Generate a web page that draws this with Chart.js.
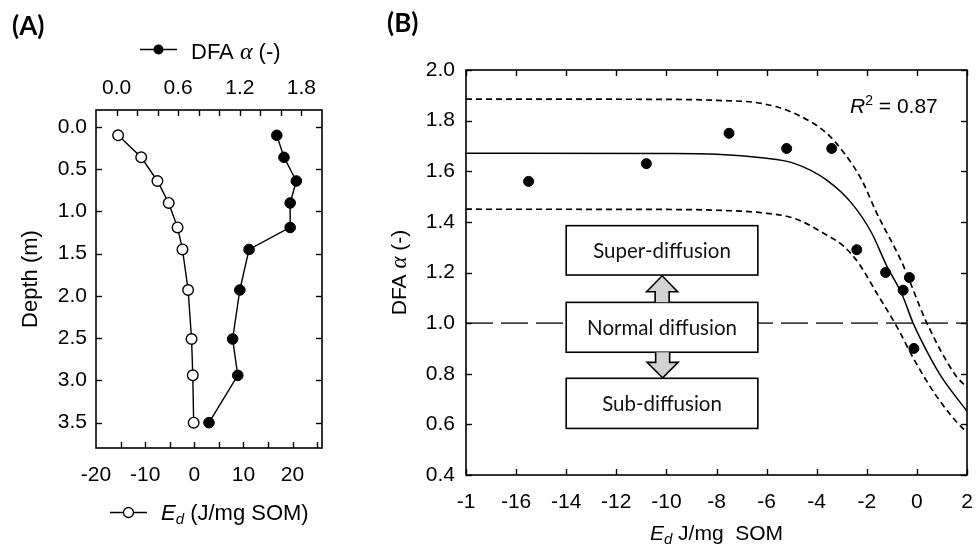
<!DOCTYPE html>
<html><head><meta charset="utf-8">
<script src="https://cdn.jsdelivr.net/npm/chart.js@4.4.1/dist/chart.umd.min.js"></script>
<style>
html,body{margin:0;padding:0;background:#fff;width:977px;height:551px;overflow:hidden}
#a{position:absolute;left:0;top:0}
#b{position:absolute;left:370px;top:0}
</style></head><body>
<canvas id="a" width="370" height="551"></canvas>
<canvas id="b" width="607" height="551"></canvas>
<script>
// ---------- data ----------
const depth = [0.10, 0.36, 0.64, 0.90, 1.19, 1.45, 1.93, 2.51, 2.94, 3.50];
const ed    = [-15.5, -10.8, -7.5, -5.2, -3.4, -2.4, -1.25, -0.55, -0.3, -0.12];
const dfa   = [1.56, 1.63, 1.75, 1.69, 1.69, 1.29, 1.20, 1.13, 1.18, 0.90];

// fitted curve and confidence bands
const fitX = [-18, -10, -8, -6.2, -4.9, -3.6, -2.6, -1.8, -1.2, -0.6, -0.15, 0.5, 1.0, 2.0];
const fitY = [1.671, 1.670, 1.667, 1.653, 1.631, 1.565, 1.473, 1.355, 1.225, 1.115, 1.0, 0.87, 0.785, 0.652];
const upX  = [-18, -10, -8, -6.2, -4.9, -3.6, -2.9, -2.2, -1.6, -0.6, 0.4, 1.5, 2.0];
const upY  = [1.885, 1.884, 1.88, 1.868, 1.829, 1.75, 1.671, 1.565, 1.434, 1.24, 1.0, 0.80, 0.745];
const loX  = [-18, -10, -8, -6.2, -4.9, -3.6, -2.9, -2.3, -1.6, -0.8, -0.1, 0.8, 1.9, 2.0];
const loY  = [1.45, 1.449, 1.446, 1.436, 1.414, 1.348, 1.302, 1.233, 1.118, 0.986, 0.854, 0.709, 0.578, 0.572];
const normalLevel = 1.0;

// tick values / labels
const depthTicks = [0, 0.5, 1.0, 1.5, 2.0, 2.5, 3.0, 3.5];
const dfaTopTicks = [0, 0.6, 1.2, 1.8];
const dfaTopMarks = [0, 0.2, 0.4, 0.6, 0.8, 1.0, 1.2, 1.4, 1.6, 1.8];
const edBotTicks = [-20, -10, 0, 10, 20];
const edBotMarks = [-15, -10, -5, 0, 5, 10, 15, 20, 25];
const bYTicks = [0.4, 0.6, 0.8, 1.0, 1.2, 1.4, 1.6, 1.8, 2.0];
const bXTicks = [-18, -16, -14, -12, -10, -8, -6, -4, -2, 0, 2];
const bXLabels = ['-1', '-16', '-14', '-12', '-10', '-8', '-6', '-4', '-2', '0', '2'];
const boxLabels = ['Super-diffusion', 'Normal diffusion', 'Sub-diffusion'];
const r2Text = '0.87';

// ---------- styling helpers ----------
const SANS = '"Liberation Sans", Arial, sans-serif';
const SERIF = '"Liberation Serif", "Times New Roman", serif';
const BOXF = 'Lato, "Open Sans", sans-serif';
const INK = '#000';
const tickFont = {family: SANS, size: 21};
const f = (size, style, fam) => `${style || 'normal'} ${size}px ${fam || SANS}`;

function drawRich(ctx, parts, x, y, align, baseline) {
  let w = 0;
  for (const p of parts) { ctx.font = p.f; w += ctx.measureText(p.t).width; }
  let cx = align === 'center' ? x - w / 2 : x;
  ctx.textAlign = 'left';
  ctx.textBaseline = baseline || 'alphabetic';
  ctx.fillStyle = INK;
  for (const p of parts) {
    ctx.font = p.f;
    ctx.fillText(p.t, cx, y + (p.dy || 0));
    cx += ctx.measureText(p.t).width;
  }
}

const frameTicks = {
  id: 'frameTicks',
  afterDraw(chart, args, opts) {
    const {ctx, chartArea: a} = chart;
    ctx.save();
    ctx.strokeStyle = '#000';
    ctx.lineWidth = 1.6;
    ctx.strokeRect(a.left, a.top, a.right - a.left, a.bottom - a.top);
    ctx.lineWidth = 1.4;
    const L = 6;
    for (const m of opts.marks) {
      const s = chart.scales[m.scale];
      for (const v of m.values) {
        const p = Math.round(s.getPixelForValue(v)) + 0.5;
        for (const side of m.sides) {
          ctx.beginPath();
          if (side === 'left') { ctx.moveTo(a.left, p); ctx.lineTo(a.left + L, p); }
          if (side === 'right') { ctx.moveTo(a.right, p); ctx.lineTo(a.right - L, p); }
          if (side === 'top') { ctx.moveTo(p, a.top); ctx.lineTo(p, a.top + L); }
          if (side === 'bottom') { ctx.moveTo(p, a.bottom); ctx.lineTo(p, a.bottom - L); }
          ctx.stroke();
        }
      }
    }
    ctx.restore();
  }
};

const fixTicks = arr => s => { s.ticks = arr.map(v => ({value: v})); };
const noGrid = {display: false, drawTicks: false};

// ---------- panel A ----------
const textA = {
  id: 'textA',
  afterDraw(chart) {
    const ctx = chart.ctx;
    ctx.save();
    ctx.fillStyle = INK; ctx.font = f(26, 'bold', BOXF);
    ctx.textAlign = 'left'; ctx.textBaseline = 'middle';
    ctx.fillText('(A)', 12, 27);
    // top legend
    ctx.strokeStyle = '#000'; ctx.lineWidth = 1.3;
    ctx.beginPath(); ctx.moveTo(140, 49.5); ctx.lineTo(177, 49.5); ctx.stroke();
    ctx.fillStyle = '#000'; ctx.beginPath(); ctx.arc(158.5, 49.5, 5, 0, Math.PI * 2); ctx.fill();
    drawRich(ctx, [{t: 'DFA ', f: f(22)}, {t: 'α', f: f(24, 'italic', SERIF)}, {t: ' (-)', f: f(22)}], 191, 58.5, 'left');
    // bottom legend
    ctx.beginPath(); ctx.moveTo(110, 512.5); ctx.lineTo(147, 512.5); ctx.stroke();
    ctx.fillStyle = '#fff'; ctx.beginPath(); ctx.arc(128.5, 512.5, 5, 0, Math.PI * 2); ctx.fill(); ctx.stroke();
    drawRich(ctx, [{t: 'E', f: f(22, 'italic')}, {t: 'd', f: f(15, 'italic'), dy: 4}, {t: ' (J/mg SOM)', f: f(22)}], 161, 519.5, 'left');
    // y title
    ctx.translate(31, 279); ctx.rotate(-Math.PI / 2);
    drawRich(ctx, [{t: 'Depth (m)', f: f(22)}], 0, 0, 'center', 'middle');
    ctx.restore();
  }
};

new Chart(document.getElementById('a'), {
  type: 'scatter',
  data: {
    datasets: [
      {label: 'DFA', xAxisID: 'xt', yAxisID: 'y',
       data: depth.map((d, i) => ({x: dfa[i], y: d})),
       showLine: true, borderColor: '#000', borderWidth: 1.4,
       pointRadius: 5.3, pointBackgroundColor: '#000', pointBorderColor: '#000', pointBorderWidth: 1},
      {label: 'Ed', xAxisID: 'xb', yAxisID: 'y',
       data: depth.map((d, i) => ({x: ed[i], y: d})),
       showLine: true, borderColor: '#000', borderWidth: 1.4,
       pointRadius: 5.3, pointBackgroundColor: '#fff', pointBorderColor: '#000', pointBorderWidth: 1.4}
    ]
  },
  options: {
    responsive: false, animation: false,
    layout: {padding: {left: 0, right: 48, top: 0, bottom: 0}},
    plugins: {legend: {display: false}, tooltip: {enabled: false},
      frameTicks: {marks: [
        {scale: 'y', values: depthTicks, sides: ['left', 'right']},
        {scale: 'xt', values: dfaTopMarks, sides: ['top']},
        {scale: 'xb', values: edBotMarks, sides: ['bottom']}
      ]}},
    scales: {
      y: {type: 'linear', axis: 'y', position: 'left', reverse: true, min: -0.2, max: 3.8,
          afterBuildTicks: fixTicks(depthTicks), afterFit: s => { s.width = 96; s.paddingTop = 0; s.paddingBottom = 0; },
          ticks: {font: tickFont, color: INK, padding: 9, callback: v => v.toFixed(1)},
          grid: noGrid, border: {display: false}},
      xt: {type: 'linear', axis: 'x', position: 'top', min: -0.2, max: 2.0,
           afterBuildTicks: fixTicks(dfaTopTicks), afterFit: s => { s.height = 110; s.paddingLeft = 0; s.paddingRight = 0; },
           ticks: {font: tickFont, color: INK, padding: 9, maxRotation: 0, autoSkip: false, callback: v => v.toFixed(1)},
           grid: noGrid, border: {display: false}},
      xb: {type: 'linear', axis: 'x', position: 'bottom', min: -20, max: 26,
           afterBuildTicks: fixTicks(edBotTicks), afterFit: s => { s.height = 103; s.paddingLeft = 0; s.paddingRight = 0; },
           ticks: {font: tickFont, color: INK, padding: 15, maxRotation: 0, autoSkip: false, callback: v => String(v)},
           grid: noGrid, border: {display: false}}
    }
  },
  plugins: [frameTicks, textA]
});

// ---------- panel B ----------
const boxes = [
  {x0: -14, x1: -6.35, y0: 1.385, y1: 1.19},
  {x0: -14, x1: -6.35, y0: 1.082, y1: 0.885},
  {x0: -14, x1: -6.35, y0: 0.782, y1: 0.584}
];
const arrows = [
  {x: -10.17, shaft: 1.082, base: 1.124, tip: 1.187},
  {x: -10.15, shaft: 0.885, base: 0.845, tip: 0.784}
];

const annotB = {
  id: 'annotB',
  afterDatasetsDraw(chart) {
    const {ctx} = chart;
    const X = chart.scales.x, Y = chart.scales.y;
    ctx.save();
    ctx.strokeStyle = '#000'; ctx.lineWidth = 1.6;
    boxes.forEach((b, i) => {
      const l = X.getPixelForValue(b.x0), r = X.getPixelForValue(b.x1);
      const t = Y.getPixelForValue(b.y0), bt = Y.getPixelForValue(b.y1);
      ctx.fillStyle = '#fff';
      ctx.fillRect(l, t, r - l, bt - t);
      ctx.strokeRect(l, t, r - l, bt - t);
      ctx.fillStyle = '#111'; ctx.font = f(20.5, 'normal', BOXF);
      ctx.textAlign = 'center'; ctx.textBaseline = 'middle';
      ctx.fillText(boxLabels[i], (l + r) / 2, (t + bt) / 2 + 1);
    });
    arrows.forEach(a => {
      const cx = X.getPixelForValue(a.x);
      const hw = 15.5, sw = 7;
      const ys = Y.getPixelForValue(a.shaft), yb = Y.getPixelForValue(a.base), yt = Y.getPixelForValue(a.tip);
      ctx.beginPath();
      ctx.moveTo(cx - sw, ys); ctx.lineTo(cx - sw, yb); ctx.lineTo(cx - hw, yb);
      ctx.lineTo(cx, yt); ctx.lineTo(cx + hw, yb); ctx.lineTo(cx + sw, yb); ctx.lineTo(cx + sw, ys);
      ctx.fillStyle = '#d3d3d3'; ctx.fill(); ctx.stroke();
    });
    ctx.restore();
  },
  afterDraw(chart) {
    const {ctx, chartArea: a} = chart;
    ctx.save();
    ctx.fillStyle = INK; ctx.font = f(26, 'bold', BOXF);
    ctx.textAlign = 'left'; ctx.textBaseline = 'middle';
    ctx.fillText('(B)', 17, 24);
    drawRich(ctx, [{t: 'R', f: f(21, 'italic')}, {t: '2', f: f(14), dy: -8}, {t: ' = ' + r2Text, f: f(21)}], 480, 113, 'left');
    drawRich(ctx, [{t: 'E', f: f(21, 'italic')}, {t: 'd', f: f(15, 'italic'), dy: 4}, {t: ' J/mg  SOM', f: f(21)}], (a.left + a.right) / 2, 540, 'center');
    ctx.translate(30, (a.top + a.bottom) / 2); ctx.rotate(-Math.PI / 2);
    drawRich(ctx, [{t: 'DFA ', f: f(21)}, {t: 'α', f: f(23, 'italic', SERIF)}, {t: ' (-)', f: f(21)}], 0, 0, 'center', 'middle');
    ctx.restore();
  }
};

const xy = (xs, ys) => xs.map((x, i) => ({x, y: ys[i]}));

new Chart(document.getElementById('b'), {
  type: 'scatter',
  data: {
    datasets: [
      {label: 'DFA', data: xy(ed, dfa), order: 0,
       pointRadius: 5, pointBackgroundColor: '#000', pointBorderColor: '#000', showLine: false},
      {label: 'fit', data: xy(fitX, fitY), order: 1, showLine: true, pointRadius: 0,
       borderColor: '#000', borderWidth: 1.5, cubicInterpolationMode: 'monotone'},
      {label: 'upper', data: xy(upX, upY), order: 2, showLine: true, pointRadius: 0,
       borderColor: '#000', borderWidth: 1.7, borderDash: [6, 4], cubicInterpolationMode: 'monotone'},
      {label: 'lower', data: xy(loX, loY), order: 3, showLine: true, pointRadius: 0,
       borderColor: '#000', borderWidth: 1.7, borderDash: [6, 4], cubicInterpolationMode: 'monotone'},
      {label: 'normal', data: [{x: -18, y: normalLevel}, {x: 2, y: normalLevel}], order: 4, showLine: true, pointRadius: 0,
       borderColor: '#444', borderWidth: 1.6, borderDash: [27, 8]}
    ]
  },
  options: {
    responsive: false, animation: false,
    layout: {padding: {left: 0, right: 10, top: 70, bottom: 0}},
    plugins: {legend: {display: false}, tooltip: {enabled: false},
      frameTicks: {marks: [
        {scale: 'y', values: bYTicks, sides: ['left', 'right']},
        {scale: 'x', values: bXTicks, sides: ['top', 'bottom']}
      ]}},
    scales: {
      x: {type: 'linear', position: 'bottom', min: -18, max: 2,
          afterBuildTicks: fixTicks(bXTicks), afterFit: s => { s.height = 76; s.paddingLeft = 0; s.paddingRight = 0; },
          ticks: {font: tickFont, color: INK, padding: 15, maxRotation: 0, autoSkip: false,
                  callback: (v, i) => bXLabels[i]},
          grid: noGrid, border: {display: false}},
      y: {type: 'linear', position: 'left', min: 0.4, max: 2.0,
          afterBuildTicks: fixTicks(bYTicks), afterFit: s => { s.width = 96; s.paddingTop = 0; s.paddingBottom = 0; },
          ticks: {font: tickFont, color: INK, padding: 11, callback: v => v.toFixed(1)},
          grid: noGrid, border: {display: false}}
    }
  },
  plugins: [frameTicks, annotB]
});
</script>
</body></html>
